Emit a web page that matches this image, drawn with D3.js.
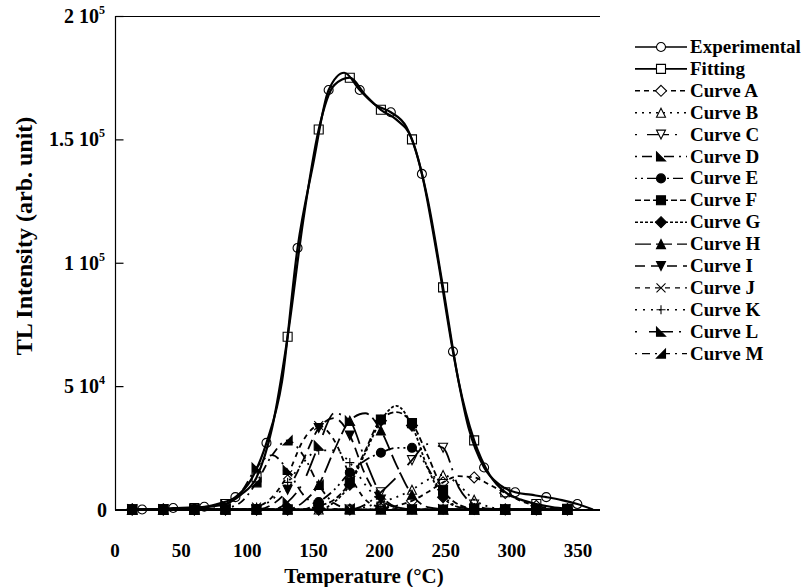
<!DOCTYPE html>
<html>
<head>
<meta charset="utf-8">
<script src="https://cdn.jsdelivr.net/npm/d3@7"></script>
<style>
body { margin: 0; background: #fff; }
text { font-family: "Liberation Serif", "Times New Roman", serif; font-weight: bold; fill: #000; }
</style>
</head>
<body>
<script>
// TL glow curve: measured curve, the fit and 13 deconvolved peaks
// all intensities are in units of 10^3 (arb. unit)

var w = 803, h = 587;

// measured curve
var expTemps = [20.5, 32.3, 44, 55.8, 67.5, 79.3, 91, 102.8, 114.5, 126.3, 138, 149.8, 161.5, 173.3, 185,
                196.8, 208.5, 220.3, 232, 243.8, 255.5, 267.3, 279, 290.8, 302.5, 314.3, 326, 337.8, 349.5, 361.3];
var experimental = [0, 0.2, 0.6, 0.8, 1.1, 2.5, 5, 12, 27, 52, 106, 140, 170, 177, 170,
                    164, 161, 155, 136, 102, 64, 33, 17, 10, 7, 6, 5, 3.8, 2.2, 0];

// fit + components share one temperature grid
var fitTemps = [13, 24.75, 36.5, 48.25, 60, 71.75, 83.5, 95.25, 107, 118.75, 130.5, 142.25, 154, 165.75, 177.5,
                189.25, 201, 212.75, 224.5, 236.25, 248, 259.75, 271.5, 283.25, 295, 306.75, 318.5, 330.25, 342];
var fitting = [0, 0, 0.1, 0.3, 0.6, 1.2, 2.2, 6, 13, 33, 70, 117, 154, 172, 175,
               168, 162, 158, 150, 126, 90, 52, 28, 14, 7, 4, 2.2, 1, 0.3];

var curveA = [0,0,0,0,0,0,0,0,0,0,0,0,0,0,0, 0,0.5,1.5,3.5,7,11,13.5,13,10,6.7,3.5,1.5,0.5,0.1];
var curveB = [0,0,0,0,0,0,0,0,0,0,0,0,0,0,0, 1,3,5,8,12,14,10,4,1,0.2,0,0,0,0];
var curveC = [0,0,0,0,0,0,0,0,0,0,0,0,0,0,0, 2,7,13,20,26.5,25,9,2,0.3,0,0,0,0,0];
var curveD = [0,0,0,0,0,0.3,2,7,17,22,16,6,1.5,0.2,0, 0,0,0,0,0,0,0,0,0,0,0,0,0,0];
var curveE = [0,0,0,0,0,0,0,0,0,0,0,0,3,8,15, 20,23,25,25,17,6,1,0.2,0,0,0,0,0,0];
var curveF = [0,0,0,0,0,0,0,0,0,0,0,0,1.5,4,11, 24,36.5,39.5,35,22,8,2,0.3,0,0,0,0,0,0];
var curveG = [0,0,0,0,0,0,0,0,0,0,0,0,0,3,10, 23,36,42,34,17,5,1,0.2,0,0,0,0,0,0];
var curveH = [0,0,0,0,0,0,0,0,0,0,0,3,10,24,36, 39,32,18,6,1,0.2,0,0,0,0,0,0,0,0];
var curveI = [0,0,0,0,0,0,0,0,0,2,8,20,33,37,30, 14,4,0.8,0.1,0,0,0,0,0,0,0,0,0,0];
var curveJ = [0,0,0,0,0,0,0,0,1,5,14,28,34,28,14, 4,0.8,0.1,0,0,0,0,0,0,0,0,0,0,0];
var curveK = [0,0,0,0,0,0,0,0,1,4,11,19,24,24,19, 10,3,0.5,0,0,0,0,0,0,0,0,0,0,0];
var curveL = [0,0,0,0,0,0,0,0,0,0,3,11,26,39,36, 20,6,1,0.1,0,0,0,0,0,0,0,0,0,0];
var curveM = [0,0,0,0,0,0,0.5,3,11,22,28,22,10,2.5,0.4, 0,0,0,0,0,0,0,0,0,0,0,0,0,0];

var seriesNames = ["Experimental", "Fitting", "Curve A", "Curve B", "Curve C", "Curve D", "Curve E",
                   "Curve F", "Curve G", "Curve H", "Curve I", "Curve J", "Curve K", "Curve L", "Curve M"];
var xTicks = [0, 50, 100, 150, 200, 250, 300, 350];
var yTicks = [0, 50, 100, 150, 200];
var yTickLabels = [["0", ""], ["5 10", "4"], ["1 10", "5"], ["1.5 10", "5"], ["2 10", "5"]];

// line style + marker for each series (same order as seriesNames)
var dashes = ["", "", "5,4", "2,5", "2,10,22,6", "2,5,10,5", "2,4,2,4,10,4", "6,3", "3,2",
              "16,5", "10,6", "5,5", "2,6", "2,12,24,6", "2,5,8,5"];
var markers = ["circle", "square", "diamond", "triangle", "triangleDown", "cornerL", "circleF", "squareF",
               "diamondF", "triangleF", "triangleDownF", "cross", "plus", "cornerL", "cornerR"];

var series = [
  { temps: expTemps, vals: experimental },
  { temps: fitTemps, vals: fitting }
];
[curveA, curveB, curveC, curveD, curveE, curveF, curveG, curveH, curveI, curveJ, curveK, curveL, curveM]
  .forEach(function(c) { series.push({ temps: fitTemps, vals: c }); });

// scales
var x = d3.scaleLinear().domain([0, 350]).range([115, 578]);
var y = d3.scaleLinear().domain([0, 200]).range([509.5, 16]);

var svg = d3.select("body").append("svg")
    .attr("width", w)
    .attr("height", h);

// marker shapes
function markerPath(type, s) {
  var r = s / 2;
  var base = type.replace(/F$/, "");
  if (base === "circle") return d3.symbol(d3.symbolCircle, Math.PI * r * r)();
  if (base === "square") return "M" + (-r) + "," + (-r) + "h" + s + "v" + s + "h" + (-s) + "Z";
  if (base === "diamond") return "M0," + (-r - 1) + "L" + (r + 1) + ",0L0," + (r + 1) + "L" + (-r - 1) + ",0Z";
  if (base === "triangle") return "M0," + (-r) + "L" + r + "," + r + "L" + (-r) + "," + r + "Z";
  if (base === "triangleDown") return "M0," + r + "L" + r + "," + (-r) + "L" + (-r) + "," + (-r) + "Z";
  if (base === "cornerL") return "M" + (-r) + "," + (-r) + "L" + r + "," + r + "L" + (-r) + "," + r + "Z";
  if (base === "cornerR") return "M" + r + "," + (-r) + "L" + r + "," + r + "L" + (-r) + "," + r + "Z";
  if (base === "cross") return "M" + (-r) + "," + (-r) + "L" + r + "," + r + "M" + r + "," + (-r) + "L" + (-r) + "," + r;
  if (base === "plus") return "M" + (-r) + ",0H" + r + "M0," + (-r) + "V" + r;
  return "";
}
function isFilled(type) { return /F$/.test(type) || type === "cornerL" || type === "cornerR"; }

function drawMarker(g, type, cx, cy, open) {
  g.append("path")
    .attr("d", markerPath(type, 9))
    .attr("transform", "translate(" + cx + "," + cy + ")")
    .attr("fill", isFilled(type) ? "#000" : open)
    .attr("stroke", "#000")
    .attr("stroke-width", 1.1);
}

var line = d3.line()
    .x(function(d) { return x(d[0]); })
    .y(function(d) { return y(d[1]); })
    .curve(d3.curveMonotoneX);

var plot = svg.append("g");

// components first, then fit and experimental on top
var order = d3.range(2, series.length).concat([1, 0]);
order.forEach(function(i) {
  var s = series[i];
  var pts = s.temps.map(function(t, j) { return [t, s.vals[j]]; });
  plot.append("path")
    .datum(pts)
    .attr("d", line)
    .attr("fill", "none")
    .attr("stroke", "#000")
    .attr("stroke-width", i < 2 ? 2.2 : 1.8)
    .attr("stroke-dasharray", dashes[i]);
});
// a marker on every second reading
order.forEach(function(i) {
  var s = series[i];
  s.temps.forEach(function(t, j) {
    if (j % 2 !== 0) return;
    drawMarker(plot, markers[i], x(t), y(s.vals[j]), "none");
  });
});

// frame
svg.append("line").attr("x1", 115.5).attr("x2", 115.5).attr("y1", 16).attr("y2", 510)
  .attr("stroke", "#000").attr("stroke-width", 1.2);
svg.append("line").attr("x1", 115).attr("x2", 600).attr("y1", 16.5).attr("y2", 16.5)
  .attr("stroke", "#000").attr("stroke-width", 1.2);
svg.append("line").attr("x1", 115).attr("x2", 600).attr("y1", 510).attr("y2", 510)
  .attr("stroke", "#000").attr("stroke-width", 2);

// y axis ticks (inward) + labels
var yAxis = d3.axisRight(y).tickValues(yTicks).tickSize(8).tickSizeOuter(0).tickFormat("");
svg.append("g").attr("transform", "translate(115.5,0)").call(yAxis)
  .call(function(g) { g.select(".domain").remove(); g.selectAll("line").attr("stroke-width", 1.2); });

yTicks.forEach(function(v, i) {
  var t = svg.append("text")
    .attr("x", yTickLabels[i][1] ? 105 : 107)
    .attr("y", y(v) + 7)
    .attr("text-anchor", "end")
    .style("font-size", "20px");
  t.append("tspan").text(yTickLabels[i][0]);
  if (yTickLabels[i][1]) {
    t.append("tspan").text(yTickLabels[i][1]).attr("dy", -9).style("font-size", "12px");
  }
});

// x labels
xTicks.forEach(function(v) {
  svg.append("text")
    .attr("x", x(v))
    .attr("y", 557)
    .attr("text-anchor", "middle")
    .style("font-size", "19px")
    .text(v);
});

// axis titles
svg.append("text")
  .attr("x", 364)
  .attr("y", 583)
  .attr("text-anchor", "middle")
  .style("font-size", "21px")
  .text("Temperature (°C)");

svg.append("text")
  .attr("transform", "translate(32,236) rotate(-90)")
  .attr("text-anchor", "middle")
  .style("font-size", "24px")
  .text("TL Intensity (arb. unit)");

// legend
var legend = svg.append("g");
seriesNames.forEach(function(name, i) {
  var ly = 47 + i * 21.9;
  legend.append("line")
    .attr("x1", 635).attr("x2", 687).attr("y1", ly).attr("y2", ly)
    .attr("stroke", "#000")
    .attr("stroke-width", i < 2 ? 1.6 : 1.4)
    .attr("stroke-dasharray", dashes[i]);
  drawMarker(legend, markers[i], 661, ly, "#fff");
  legend.append("text")
    .attr("x", 690)
    .attr("y", ly + 6)
    .style("font-size", "19px")
    .text(name);
});
</script>
</body>
</html>
